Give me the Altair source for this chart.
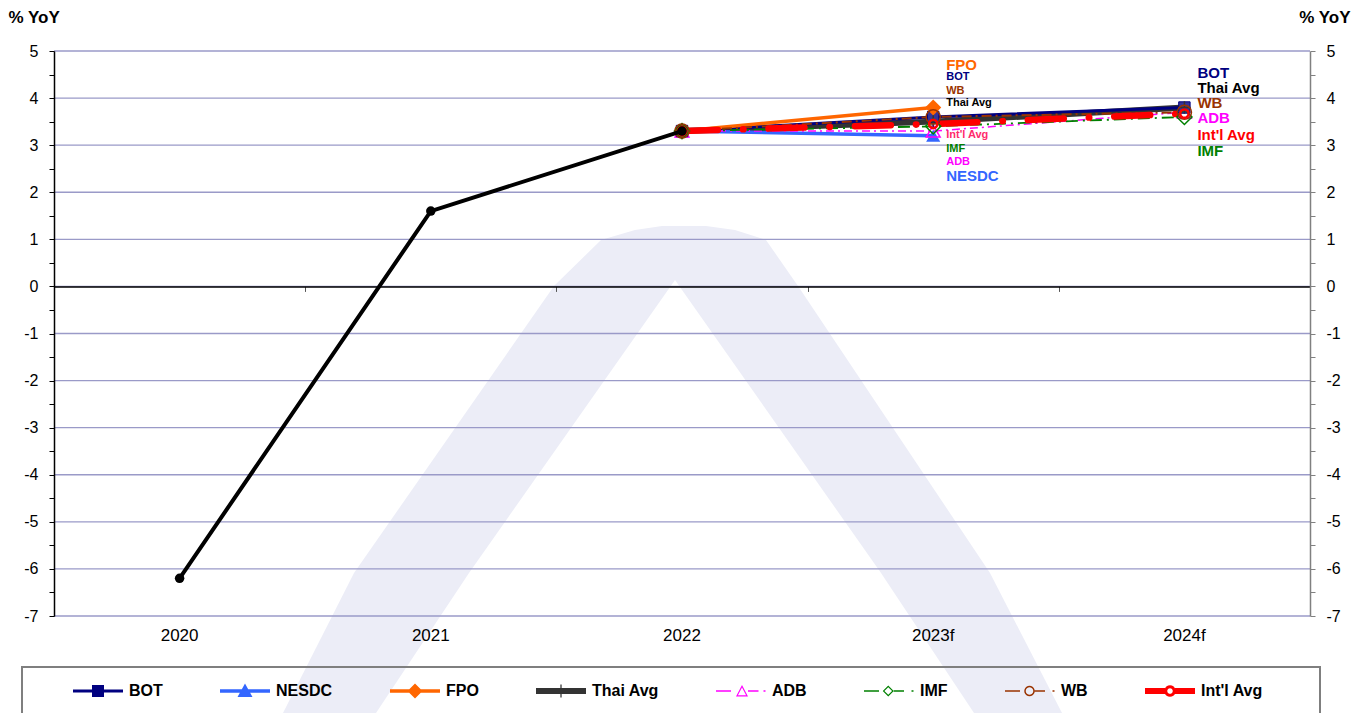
import math
import altair as alt
import pandas as pd

# ---------------- data ----------------
categories = ["2020", "2021", "2022", "2023f", "2024f"]
actual = [-6.2, 1.6, 3.3, None, None]

series_names = ["BOT", "NESDC", "FPO", "Thai Avg", "ADB", "IMF", "WB", "Int'l Avg"]
bot = [None, None, 3.3, 3.6, 3.8]
nesdc = [None, None, 3.3, 3.2, None]
fpo = [None, None, 3.3, 3.8, None]
thai_avg = [None, None, 3.3, 3.5, 3.8]
adb = [None, None, 3.3, 3.3, 3.7]
imf = [None, None, 3.3, 3.4, 3.6]
wb = [None, None, 3.3, 3.6, 3.7]
intl_avg = [None, None, 3.3, 3.45, 3.67]

y_ticks = list(range(-7, 6))

labels_2023f = ["FPO", "BOT", "WB", "Thai Avg", "Int'l Avg", "IMF", "ADB", "NESDC"]
labels_2024f = ["BOT", "Thai Avg", "WB", "ADB", "Int'l Avg", "IMF"]

# ---------------- layout / style ----------------
W, H = 1256, 565
FONT = "Liberation Sans"
LABEL_Y_2023F = [4.71, 4.44, 4.15, 3.89, 3.21, 2.91, 2.65, 2.35]
LABEL_SIZE_2023F = [15, 11, 11, 11, 11, 11, 11, 15]
LABEL_Y_2024F = [4.54, 4.21, 3.90, 3.57, 3.22, 2.88]

COLORS = {
    "BOT": "#000080", "NESDC": "#3366ff", "FPO": "#ff6600", "Thai Avg": "#333333",
    "ADB": "#ff00ff", "IMF": "#008000", "WB": "#993300", "Int'l Avg": "#ff0000",
}
LABEL_COLORS_2023F = {"Int'l Avg": "#ff2a6d", "Thai Avg": "#000000"}
LABEL_COLORS_2024F = {"Thai Avg": "#000000"}

CROSS = "M-1,0H1M0,-1V1"
STYLE = {
    "BOT": dict(width=3, shape="square", size=130, filled=True, fill="#333399", mw=1),
    "NESDC": dict(width=3.5, shape="triangle-up", size=200, filled=True, fill="#3366ff", mw=0),
    "FPO": dict(width=3.5, shape="diamond", size=260, filled=True, fill="#ff6600", mw=0),
    "Thai Avg": dict(width=6, shape=CROSS, size=160, filled=False, mw=1.5),
    "ADB": dict(width=1.5, dash=[8, 4, 2, 4], shape="triangle-up", size=190, filled=False, mw=1.5),
    "IMF": dict(width=1.8, dash=[12, 5, 2, 5], shape="diamond", size=230, filled=False, mw=1.5),
    "WB": dict(width=2, dash=[10, 4, 2, 4], shape="circle", size=200, filled=False, mw=1.5),
    "Int'l Avg": dict(width=6.5, dash=[36, 25, 0.5, 25], cap="round", shape="circle", size=70, filled=False, mw=2.5),
}
LINE_ORDER = ["Thai Avg", "BOT", "NESDC", "FPO", "ADB", "IMF", "WB", "Int'l Avg"]
POINT_ORDER = ["NESDC", "ADB", "BOT", "FPO", "Thai Avg", "IMF", "WB", "Int'l Avg"]


# ---------- legend symbol paths (line + marker drawn as filled shapes) ----------
def f(v):
    s = f"{v:.3f}".rstrip("0").rstrip(".")
    return "0" if s in ("-0", "") else s


def P(pts):
    return "M" + "L".join(f"{f(x)},{f(y)}" for x, y in pts) + "Z"


def R(x0, x1, y0, y1):
    return P([(x0, y0), (x1, y0), (x1, y1), (x0, y1)])


def ring(pts, k):
    cx = sum(p[0] for p in pts) / len(pts)
    cy = sum(p[1] for p in pts) / len(pts)
    inner = [(cx + (x - cx) * k, cy + (y - cy) * k) for x, y in pts]
    return P(pts) + P(list(reversed(inner)))


def circ(cx, r, n=20):
    return [(cx + r * math.cos(2 * math.pi * i / n), r * math.sin(2 * math.pi * i / n)) for i in range(n)]


t = 0.03
LEGEND_PATHS = {
    "BOT": R(-1, 1, -0.06, 0.06) + R(-0.24, 0.24, -0.24, 0.24),
    "NESDC": R(-1, 1, -0.07, 0.07) + P([(0, -0.3), (0.3, 0.24), (-0.3, 0.24)]),
    "FPO": R(-1, 1, -0.07, 0.07) + P([(0, -0.3), (0.3, 0), (0, 0.3), (-0.3, 0)]),
    "Thai Avg": R(-1, 1, -0.12, 0.12) + R(-0.025, 0.025, -0.26, 0.26),
    "ADB": R(-1, -0.4, -t, t) + ring([(0.04, -0.24), (0.28, 0.22), (-0.2, 0.22)], 0.68)
    + R(0.28, 0.7, -t, t) + R(0.9, 0.98, -t, t),
    "IMF": R(-1, -0.4, -t, t) + ring([(-0.03, -0.22), (0.19, 0), (-0.03, 0.22), (-0.25, 0)], 0.7)
    + R(0.19, 0.6, -t, t) + R(0.9, 0.98, -t, t),
    "WB": R(-1, -0.4, -t, t) + P(circ(-0.02, 0.21)) + P(list(reversed(circ(-0.02, 0.15))))
    + R(0.19, 0.6, -t, t) + R(0.9, 0.98, -t, t),
    "Int'l Avg": R(-1, -0.2, -0.12, 0.12) + P(circ(0, 0.23)) + P(list(reversed(circ(0, 0.11))))
    + R(0.2, 1, -0.12, 0.12),
}

# ---------------- tables ----------------
series_values = {"BOT": bot, "NESDC": nesdc, "FPO": fpo, "Thai Avg": thai_avg,
                 "ADB": adb, "IMF": imf, "WB": wb, "Int'l Avg": intl_avg}
rows = [{"series": s, "year": c, "value": v}
        for s in series_names for c, v in zip(categories, series_values[s]) if v is not None]
df = pd.DataFrame(rows)
df_actual = pd.DataFrame([{"year": c, "value": v} for c, v in zip(categories, actual) if v is not None])
df_grid = pd.DataFrame({"v": y_ticks})

lab = []
for txt, y, fs in zip(labels_2023f, LABEL_Y_2023F, LABEL_SIZE_2023F):
    lab.append({"year": "2023f", "text": txt, "ly": y, "fs": fs,
                "c": LABEL_COLORS_2023F.get(txt, COLORS[txt])})
for txt, y in zip(labels_2024f, LABEL_Y_2024F):
    lab.append({"year": "2024f", "text": txt, "ly": y, "fs": 15,
                "c": LABEL_COLORS_2024F.get(txt, COLORS[txt])})
df_lab = pd.DataFrame(lab)

# watermark (decoration) in page pixel units
wm_outer = pd.DataFrame({
    "wy": [226, 230, 240, 286, 573, 713, 745],
    "wl": [662, 635, 601, 554, 354, 283, 267],
    "wr": [706, 735, 766, 798, 990, 1062, 1078],
})
wm_inner = pd.DataFrame({
    "wy": [280, 573, 713, 745],
    "wl": [675, 469, 376, 355],
    "wr": [675, 881, 974, 995],
})

# ---------------- scales / axes ----------------
xscale = alt.Scale(type="band", domain=categories, paddingInner=0, paddingOuter=0)
yscale = alt.Scale(domain=[-7, 5], nice=False, zero=False)
half_ticks = [v / 2 for v in range(2 * y_ticks[0], 2 * y_ticks[-1] + 1)]
label_expr = "datum.value % 1 == 0 ? '' + datum.value : ''"

left_axis = alt.Axis(
    orient="left", values=half_ticks, labelExpr=label_expr, labelFont=FONT, labelFontSize=16,
    labelColor="black", labelPadding=11, tickSize=5, tickColor="black", tickWidth=1,
    domainColor="black", domainWidth=1.5, grid=False, labelOverlap=False, labelFlush=False,
    title="% YoY", titleAngle=0, titleX=-46, titleY=-34, titleAlign="left", titleBaseline="middle",
    titleFont=FONT, titleFontSize=17, titleFontWeight="bold", titleColor="black", zindex=1,
)
right_axis = alt.Axis(
    orient="right", values=half_ticks, labelExpr=label_expr, labelFont=FONT, labelFontSize=16,
    labelColor="black", labelPadding=11, tickSize=5, tickColor="#808080", tickWidth=1,
    domainColor="#808080", domainWidth=1.5, grid=False, labelOverlap=False, labelFlush=False,
    title="% YoY", titleAngle=0, titleX=40, titleY=-34, titleAlign="right", titleBaseline="middle",
    titleFont=FONT, titleFontSize=17, titleFontWeight="bold", titleColor="black", zindex=1,
)
x_label_axis = alt.Axis(
    orient="bottom", domain=False, ticks=False, grid=False, labelFont=FONT, labelFontSize=17,
    labelColor="black", labelPadding=11, labelAngle=0, title=None, labelOverlap=False,
    labelFlush=False, labelBound=False, zindex=1,
)
zero_offset = H * (5 / 12) - H
x_zero_axis = alt.Axis(
    orient="bottom", offset=zero_offset, domain=True, domainColor="black", domainWidth=1.5,
    ticks=True, tickBand="extent", tickSize=5, tickColor="#555555", tickWidth=1,
    labels=False, grid=False, title=None, zindex=1,
)


def X(axis=None):
    return alt.X("year:N", scale=xscale, sort=categories, bandPosition=0.5, axis=axis)


def Y(axis=None, field="value:Q"):
    return alt.Y(field, scale=yscale, axis=axis)


base = alt.Chart(df)


def line_layer(name, x_axis=None, y_axis=None):
    st = STYLE[name]
    kw = dict(color=COLORS[name], strokeWidth=st["width"])
    if "dash" in st:
        kw["strokeDash"] = st["dash"]
    if "cap" in st:
        kw["strokeCap"] = st["cap"]
    return (base.transform_filter(alt.FieldEqualPredicate(field="series", equal=name))
            .mark_line(**kw).encode(x=X(x_axis), y=Y(y_axis)))


def point_layer(name):
    st = STYLE[name]
    if st["filled"]:
        kw = dict(filled=True, fill=st["fill"], shape=st["shape"], size=st["size"], opacity=1)
        if st["mw"] > 0:
            kw.update(stroke=COLORS[name], strokeWidth=st["mw"])
    else:
        kw = dict(filled=False, stroke=COLORS[name], strokeWidth=st["mw"], shape=st["shape"],
                  size=st["size"], opacity=1, fillOpacity=0)
    return (base.transform_filter(alt.FieldEqualPredicate(field="series", equal=name))
            .mark_point(**kw).encode(x=X(), y=Y()))


grid_layer = alt.Chart(df_grid).mark_rule(color="#9a9ac8", strokeWidth=1.3).encode(
    y=Y(left_axis, "v:Q"))

line_layers = []
for s in LINE_ORDER:
    if s == "BOT":
        line_layers.append(line_layer(s, x_zero_axis, right_axis))
    else:
        line_layers.append(line_layer(s))
point_layers = [point_layer(s) for s in POINT_ORDER]

actual_line = alt.Chart(df_actual).mark_line(color="black", strokeWidth=4).encode(
    x=X(x_label_axis), y=Y())
actual_pts = alt.Chart(df_actual).mark_point(
    filled=True, shape="circle", size=90, color="black", opacity=1).encode(x=X(), y=Y())

text_layer = alt.Chart(df_lab).mark_text(
    align="left", baseline="middle", dx=13, font=FONT, fontWeight="bold").encode(
    x=X(), y=Y(None, "ly:Q"), text="text:N",
    color=alt.Color("c:N", scale=None), size=alt.Size("fs:Q", scale=None))

legend_def = alt.Legend(
    orient="none", legendX=19, legendY=615, direction="horizontal", title=None,
    symbolSize=2500, symbolStrokeWidth=0, symbolOpacity=1, labelFont=FONT, labelFontSize=16,
    labelFontWeight="bold", labelColor="black", labelOffset=6, columnPadding=57, padding=0,
    labelLimit=300,
)
legend_layer = base.mark_point(filled=True, opacity=0).encode(
    x=X(), y=Y(),
    color=alt.Color("series:N", scale=alt.Scale(domain=series_names,
                                                range=[COLORS[s] for s in series_names]),
                    legend=legend_def),
    shape=alt.Shape("series:N", scale=alt.Scale(domain=series_names,
                                                range=[LEGEND_PATHS[s] for s in series_names]),
                    legend=legend_def),
)

frame = alt.Chart(pd.DataFrame({"a": [0]})).mark_rect(
    fillOpacity=0, stroke="#7f7f7f", strokeWidth=2).encode(
    x=alt.value(-32), x2=alt.value(1266), y=alt.value(616), y2=alt.value(720))

main = alt.layer(
    grid_layer, *line_layers, *point_layers, actual_line, actual_pts, text_layer,
    legend_layer, frame,
).resolve_axis(x="independent", y="independent")

wx = alt.Scale(domain=[54, 54 + W], nice=False, zero=False)
wy = alt.Scale(domain=[51 + H, 51], nice=False, zero=False)
wm_a = alt.Chart(wm_outer).mark_area(orient="horizontal", color="#ecedf7").encode(
    y=alt.Y("wy:Q", scale=wy, axis=None), x=alt.X("wl:Q", scale=wx, axis=None), x2="wr:Q")
wm_b = alt.Chart(wm_inner).mark_area(orient="horizontal", color="#ffffff").encode(
    y=alt.Y("wy:Q", scale=wy, axis=None), x=alt.X("wl:Q", scale=wx, axis=None), x2="wr:Q")
watermark = alt.layer(wm_a, wm_b)

chart = alt.layer(watermark, main).resolve_scale(x="independent", y="independent").properties(
    width=W, height=H,
    padding={"left": 46, "top": 43, "right": 48, "bottom": 97},
    autosize=alt.AutoSizeParams(type="none"),
).configure_view(strokeWidth=0)

chart.save("out.html", embed_options={"renderer": "svg", "actions": False})
